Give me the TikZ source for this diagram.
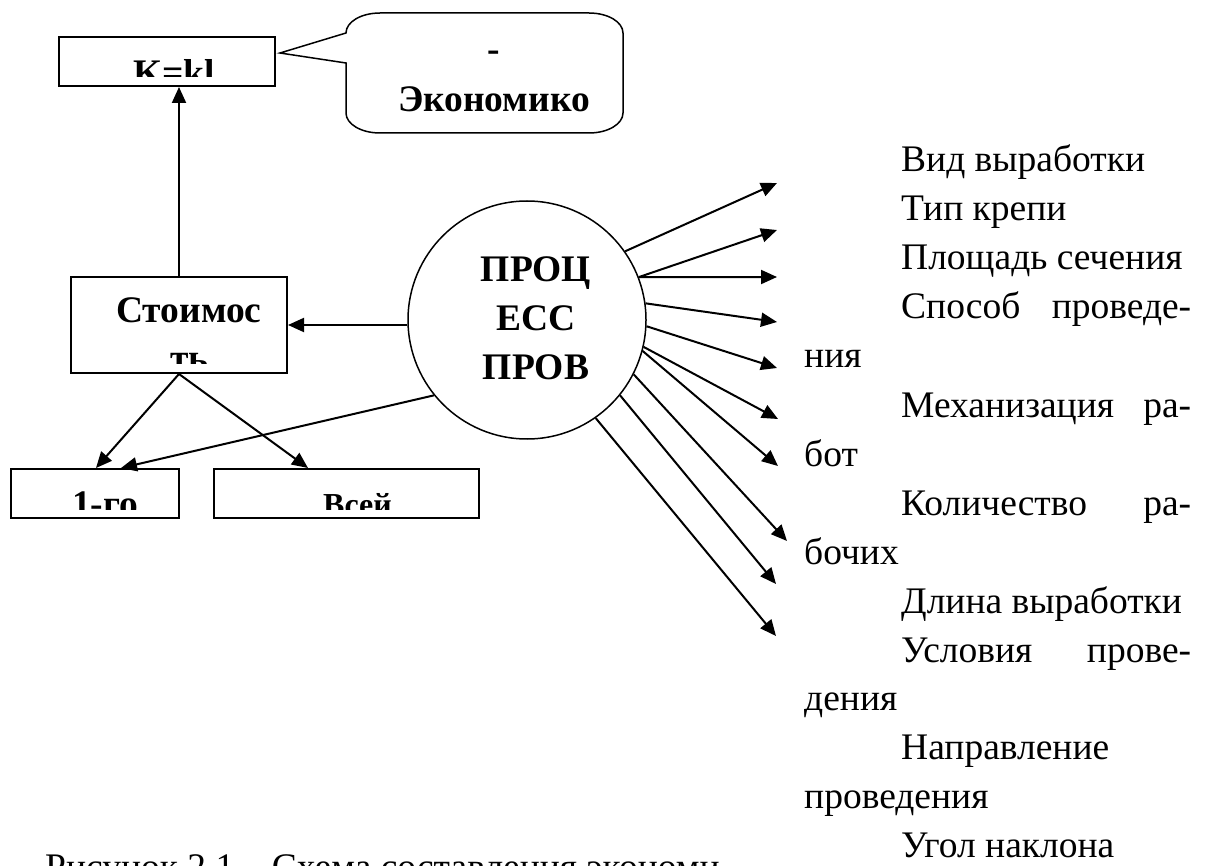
\documentclass[tikz,border=0pt]{standalone}
\usepackage{fontspec}
\setmainfont{Liberation Serif}
\usetikzlibrary{arrows.meta}
\begin{document}
\begin{tikzpicture}[x=1pt,y=-1pt,
  frame/.style={draw, line width=2pt, rectangle, inner sep=0pt},
  link/.style={line width=2pt, -{Triangle[length=16pt,width=14pt]}},
  boldtxt/.style={inner sep=0pt, font=\fontsize{37.5pt}{49pt}\selectfont\bfseries},
  plain/.style={inner sep=0pt, anchor=base west, font=\fontsize{37.5pt}{49pt}\selectfont},
]
\clip (0,0) rectangle (1205,866);

% boxes and the process circle
\node[frame, minimum width=216pt, minimum height=49pt] (K) at (167,61.5) {};
\node[frame, minimum width=216pt, minimum height=96pt] (cost) at (179,325) {};
\node[frame, minimum width=168pt, minimum height=49pt] (first) at (95,493.5) {};
\node[frame, minimum width=265pt, minimum height=49pt] (whole) at (346.5,493.5) {};
\node[circle, draw, line width=1.5pt, minimum size=238pt, inner sep=0pt] (proc) at (527,320) {};

% box captions, cut by the box frames
\begin{scope}
  \clip ([yshift=10pt]K.south west) rectangle (K.north east);
  \node[boldtxt, anchor=base west] (ktxt) at (133,86) {K=kl};
\end{scope}
\begin{scope}
  \clip ([yshift=10pt]cost.south west) rectangle (cost.north east);
  \node[boldtxt, anchor=base west] (cost1) at (116,323) {Стоимос};
  \node[boldtxt, anchor=base west] (cost2) at (170,371) {ть};
\end{scope}
\begin{scope}
  \clip ([yshift=10pt]first.south west) rectangle (first.north east);
  \node[boldtxt, anchor=base west] (ftxt) at (72,516) {1-го};
\end{scope}
\begin{scope}
  \clip ([yshift=10pt]whole.south west) rectangle (whole.north east);
  \node[inner sep=0pt, anchor=base west, font=\fontsize{32pt}{40pt}\selectfont\bfseries] (wtxt) at (323,515) {Всей};
\end{scope}

% speech bubble next to the formula box
\coordinate (ptr) at ([xshift=4pt,yshift=8.5pt]K.east);
\draw[line width=1.5pt] (ptr) -- (346,33) .. controls (346,22) and (361,13) .. (380,13)
  -- (589,13) .. controls (608,13) and (623,22) .. (623,33)
  -- (623,113) .. controls (623,124) and (608,133) .. (589,133)
  -- (380,133) .. controls (361,133) and (346,124) .. (346,113)
  -- (346,63) -- cycle;
\node[boldtxt, anchor=base] (dash) at (494,62) {-};
\node[boldtxt, anchor=base] (econ) at (494,112) {Экономико};

% circle label
\node[boldtxt, anchor=base] (p1) at (536,282) {ПРОЦ};
\node[boldtxt, anchor=base] (p2) at (536,331) {ЕСС};
\node[boldtxt, anchor=base] (p3) at (536,380) {ПРОВ};

% left-hand connectors
\draw[link] (cost.north) -- (cost.north |- K.south);
\draw[link] (cost.east -| proc.west) -- (cost.east);
\draw[link] (cost.south) -- ([xshift=86pt]first.north west);
\draw[link] (cost.south) -- ([xshift=95pt]whole.north west);
\draw[link] (proc.219) -- ([xshift=111pt]first.north west);

% free ends of the factor arrows
\coordinate (t1) at (777,183);
\coordinate (t2) at (777,230);
\coordinate (t3) at (777,277);
\coordinate (t4) at (777,322);
\coordinate (t5) at (777,368);
\coordinate (t6) at (778,419);
\coordinate (t7) at (778,466);
\coordinate (t8) at (787,541);
\coordinate (t9) at (776,584);
\coordinate (t10) at (776,636);
\draw[link] (proc.35) -- (t1);
\draw[link] (proc.21.5) -- (t2);
\draw[link] (proc.21.5) -- (t3);
\draw[link] (proc.8.5) -- (t4);
\draw[link] (proc.-3.3) -- (t5);
\draw[link] (proc.-13.2) -- (t6);
\draw[link] (proc.-15) -- (t7);
\draw[link] (proc.-27.2) -- (t8);
\draw[link] (proc.-39) -- (t9);
\draw[link] (proc.-55.2) -- (t10);

% list of factors
\node[plain] (f1) at (901,172) {Вид выработки};
\node[plain] (f2) at (901,221) {Тип крепи};
\node[plain] (f3) at (901,270) {Площадь сечения};
\node[plain] (f4) at (901,319) {\makebox[290pt][s]{Способ проведе-}};
\node[plain] (f4b) at (804,368) {ния};
\node[plain] (f5) at (901,417.5) {\makebox[290pt][s]{Механизация ра-}};
\node[plain] (f5b) at (804,466.4) {бот};
\node[plain] (f6) at (901,515.3) {\makebox[290pt][s]{Количество ра-}};
\node[plain] (f6b) at (804,564.2) {бочих};
\node[plain] (f7) at (901,613.1) {Длина выработки};
\node[plain] (f8) at (901,662) {\makebox[290pt][s]{Условия прове-}};
\node[plain] (f8b) at (804,710.9) {дения};
\node[plain] (f9) at (901,759.8) {Направление};
\node[plain] (f9b) at (804,808.7) {проведения};
\node[plain] (f10) at (901,857.6) {Угол наклона};

% figure caption, cut by the page edge
\node[plain] (cap) at (45,879) {Рисунок 2.1 – Схема составления экономи};
\end{tikzpicture}
\end{document}
